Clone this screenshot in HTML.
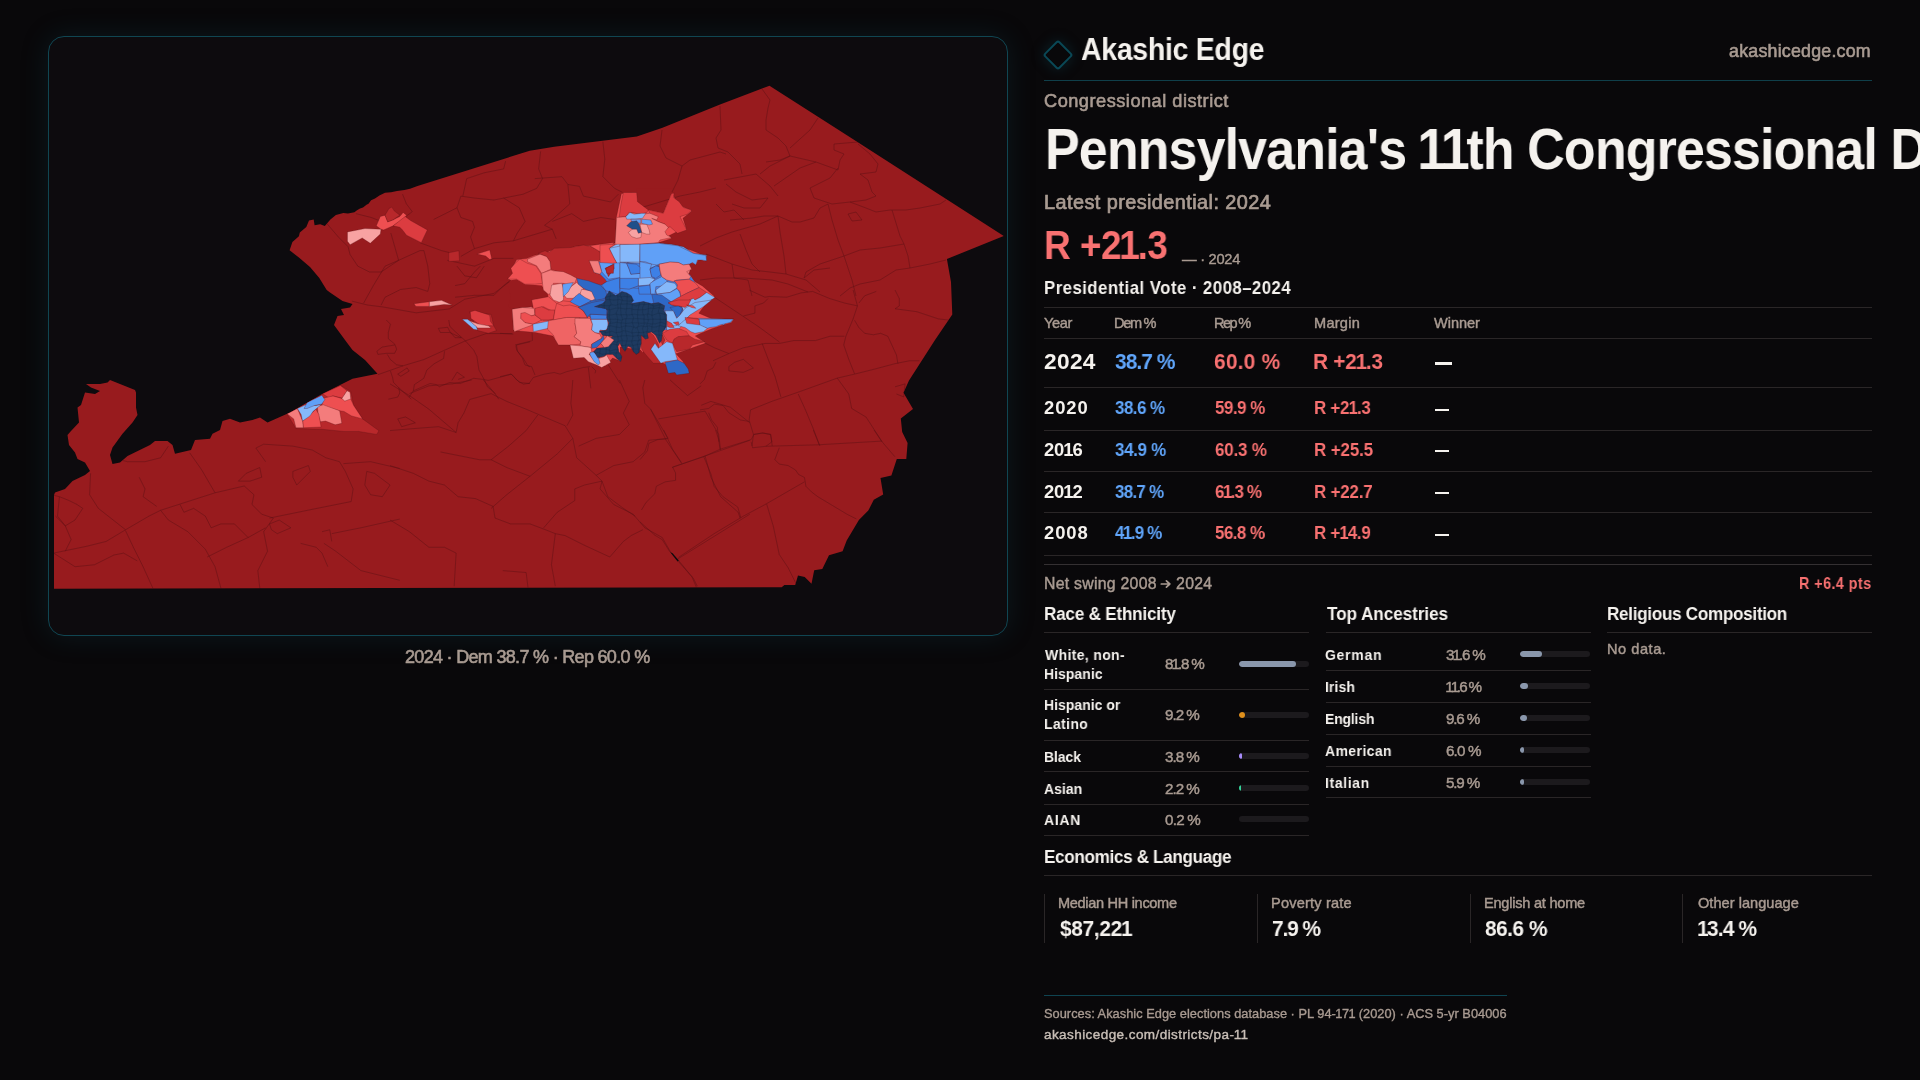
<!DOCTYPE html>
<html><head><meta charset="utf-8"><title>PA-11</title><style>
html,body{margin:0;padding:0;}
body{width:1920px;height:1080px;overflow:hidden;background:#09080a;position:relative;font-family:"Liberation Sans",sans-serif;}
.t{position:absolute;white-space:nowrap;line-height:1;will-change:transform;}
.ln{position:absolute;}
.n1{margin:0 -0.045em;}
.bp{display:inline-block;width:0;height:0;}
#card{position:absolute;left:48px;top:36px;width:960px;height:600px;box-sizing:border-box;border:1px solid #104652;border-radius:16px;background:#0d0b0e;box-shadow:0 0 28px rgba(16,80,96,0.22);}
#logo{position:absolute;left:1046.7px;top:44px;width:22px;height:22px;box-sizing:border-box;border:2.5px solid #0a4856;border-radius:3px;transform:rotate(45deg);box-shadow:0 0 14px rgba(13,80,96,0.35);}
.trk{position:absolute;width:70px;height:6px;border-radius:3px;background:#1c1a1d;overflow:hidden;}
.fill{height:6px;border-radius:3px;}
</style></head><body>
<div id="card"></div>
<svg id="map" width="1920" height="1080" viewBox="0 0 1920 1080" style="position:absolute;left:0;top:0">
<defs><clipPath id="dclip"><polygon points="289.6,250.2 292.4,241.9 298.9,236.3 299.8,232.6 306.3,227 309,220.6 313.7,219.6 314.6,225.2 320.2,224.3 324.8,226.1 330.4,219.6 335.9,215 343.3,213.1 348,213.4 354.4,212.2 357,210.2 360,208.5 363,207.6 366.5,204.8 368.5,203.8 371.1,200.2 375,198.5 379.4,195.6 385,192.8 391,192.2 397,190.9 404.4,190 410,188.8 417.5,186 520,153.75 529.8,150.7 554.2,146.7 636.8,136.4 662.5,127.7 719.4,104.7 769.5,85.7 852,138.5 1003.75,236 946.9,259 951,282 952.3,314.6 935,340 909,380.6 903.5,392.8 913,409 900.8,418.5 902.2,432 907.6,443 906.3,459 896.8,459 891.4,475.4 880.5,478 883.2,494.4 873.8,499.8 868.3,510.6 858.9,520 846.7,540.4 842.6,551.3 829,555.3 822.3,568.9 814.2,570.2 811.5,583.75 804.7,577 798,575.6 795.2,585 784.4,585 781.7,587.3 520,587.8 54,588.8 54,495 55,492.5 65,489 72.5,481 85,475 90,471 85,462.5 77.5,459 75,452.5 69,445 67.5,435 71,431 79,422.5 77.5,407.5 81,405 85,392.5 95,394 100,391 91,387.5 86,384 100,384 107.5,382.5 110,380 135,390 136,392.5 136,407.5 137.5,415 132.5,422.5 122.5,433.75 112.5,447.5 110,455 112.5,464 120,462.5 127.5,456 150,445 155,441 167.5,441 172.5,445 175,453.75 191,450 195,440 210,438.75 212.5,433.75 220,430 222.5,421 230,418.75 240,422.5 252.5,420 260,417.5 267.5,422.5 290,412.5 310,401 322.5,393.75 340,385 352.5,378.75 377.5,373.75 365,360 352.5,350 345,340 334,325 337.5,316 344,315 341,309 350,307.5 352.5,304 342.5,301 330,292.5 326.7,290 319.3,278 310,266.9 298.9,257.6"/></clipPath></defs>
<polygon points="289.6,250.2 292.4,241.9 298.9,236.3 299.8,232.6 306.3,227 309,220.6 313.7,219.6 314.6,225.2 320.2,224.3 324.8,226.1 330.4,219.6 335.9,215 343.3,213.1 348,213.4 354.4,212.2 357,210.2 360,208.5 363,207.6 366.5,204.8 368.5,203.8 371.1,200.2 375,198.5 379.4,195.6 385,192.8 391,192.2 397,190.9 404.4,190 410,188.8 417.5,186 520,153.75 529.8,150.7 554.2,146.7 636.8,136.4 662.5,127.7 719.4,104.7 769.5,85.7 852,138.5 1003.75,236 946.9,259 951,282 952.3,314.6 935,340 909,380.6 903.5,392.8 913,409 900.8,418.5 902.2,432 907.6,443 906.3,459 896.8,459 891.4,475.4 880.5,478 883.2,494.4 873.8,499.8 868.3,510.6 858.9,520 846.7,540.4 842.6,551.3 829,555.3 822.3,568.9 814.2,570.2 811.5,583.75 804.7,577 798,575.6 795.2,585 784.4,585 781.7,587.3 520,587.8 54,588.8 54,495 55,492.5 65,489 72.5,481 85,475 90,471 85,462.5 77.5,459 75,452.5 69,445 67.5,435 71,431 79,422.5 77.5,407.5 81,405 85,392.5 95,394 100,391 91,387.5 86,384 100,384 107.5,382.5 110,380 135,390 136,392.5 136,407.5 137.5,415 132.5,422.5 122.5,433.75 112.5,447.5 110,455 112.5,464 120,462.5 127.5,456 150,445 155,441 167.5,441 172.5,445 175,453.75 191,450 195,440 210,438.75 212.5,433.75 220,430 222.5,421 230,418.75 240,422.5 252.5,420 260,417.5 267.5,422.5 290,412.5 310,401 322.5,393.75 340,385 352.5,378.75 377.5,373.75 365,360 352.5,350 345,340 334,325 337.5,316 344,315 341,309 350,307.5 352.5,304 342.5,301 330,292.5 326.7,290 319.3,278 310,266.9 298.9,257.6" fill="#981b1e"/>
<g clip-path="url(#dclip)">
<g fill="none" stroke="#5e1115" stroke-opacity="0.75" stroke-linejoin="round">
<g transform="translate(40,380) scale(0.19449)" stroke-width="3.34">
<polyline points="70,890 240,855 340,830 440,770 560,700 620,670 760,625 900,580 1050,545"/>
<polyline points="1180,710 1400,665 1600,625"/>
<polyline points="1500,790 1650,760 1850,715"/>
<polyline points="260,480 255,590 300,660 440,770"/>
<polyline points="440,775 480,860 530,960 580,1070"/>
<polyline points="770,375 830,460 900,580"/>
<polyline points="620,670 660,720 760,780 850,870 900,960 930,1070"/>
<polyline points="1050,545 1100,590 1090,640 1140,690 1200,710 1150,780 1170,880 1120,980 1130,1070"/>
<polyline points="1600,625 1610,560 1570,470 1540,420 1470,400 1400,360 1300,340 1150,330 1110,350 1160,420"/>
<polyline points="1850,455 1700,420 1560,430"/>
<polyline points="60,590 100,600 150,620 190,640 220,660 180,720 130,750 80,700"/>
<polyline points="70,890 180,960 280,950 380,900 430,890 500,930"/>
<polyline points="510,500 540,560 530,600 600,650"/>
<polyline points="1020,520 1060,480 1130,450 1140,500 1080,520 1020,520"/>
<polyline points="1300,470 1380,440 1390,470 1320,540 1300,500 1300,470"/>
<polyline points="1680,470 1720,480 1800,540 1760,600 1700,590 1670,540 1680,470"/>
<polyline points="1180,740 1230,720 1290,760 1220,790 1190,770 1180,740"/>
<polyline points="1340,840 1420,860 1450,890 1480,960"/>
<polyline points="1450,780 1490,770 1500,830"/>
<polyline points="720,640 740,680 790,660 850,700 880,760 930,740 1000,740 1070,810"/>
<polyline points="860,910 960,860 1070,810 1160,760"/>
<polyline points="1850,1030 1650,980 1520,880 1460,840"/>
<polyline points="370,400 450,420 540,420 620,400 660,340"/>
<polyline points="100,600 90,700 130,750 160,820 130,880"/>
</g>
<g transform="translate(390,380) scale(0.19449)" stroke-width="3.34">
<polyline points="0,20 100,80 200,150 340,270"/>
<polyline points="100,70 200,30 320,20 420,0"/>
<polyline points="340,270 350,220 380,170 410,100 520,70 600,110 700,150 770,180 900,235 940,300 960,400 1060,490 1090,520 1080,560 1150,640 1250,690 1310,760"/>
<polyline points="540,70 480,0"/>
<polyline points="0,260 120,250 250,240 340,270"/>
<polyline points="260,370 360,390 460,410 520,410 600,450 720,495"/>
<polyline points="520,410 610,340 700,260 760,180"/>
<polyline points="940,300 860,380 720,495 600,590 520,660"/>
<polyline points="0,440 120,480 200,520 280,540 350,600 440,610 530,650 540,710 620,740 720,740 800,770 850,790 900,800 1000,850 1130,910 1200,830 1240,800 1300,770"/>
<polyline points="0,720 100,780 200,860 280,860 340,890 330,1060"/>
<polyline points="850,790 830,950 850,1060"/>
<polyline points="1310,760 1400,810 1440,880 1480,930 1560,1020 1580,1060"/>
<polyline points="1480,920 1850,690"/>
<polyline points="1060,490 1150,440 1250,420 1310,370 1330,310 1430,300"/>
<polyline points="1430,300 1340,150 1310,120 1300,40 1310,0"/>
<polyline points="1340,150 1420,310 1500,430"/>
<polyline points="1450,450 1850,310"/>
<polyline points="1380,200 1620,160 1690,280 1700,360"/>
<polyline points="1620,390 1650,500 1700,600 1790,680 1800,710"/>
<polyline points="1850,220 1750,140 1650,110 1600,130"/>
<polyline points="1440,0 1530,80 1600,30"/>
<polyline points="940,0 930,120 940,180 910,235"/>
<polyline points="1180,0 1230,110 1200,170 1230,230 1180,280 1060,300 970,340"/>
<polyline points="1090,520 1000,540 950,560 950,620 860,680 790,760"/>
<polyline points="1090,520 1120,600 1200,660 1260,700"/>
<polyline points="40,200 80,190 130,220 60,240 40,200"/>
<polyline points="580,980 700,990 710,1070"/>
</g>
<g transform="translate(280,130) scale(0.19449)" stroke-width="3.34">
<polyline points="240,480 300,550 350,600 360,640 400,700 460,730 520,730 610,670 720,620 740,620"/>
<polyline points="370,880 450,900 530,910 700,940 870,920 950,870 1100,840 1180,780"/>
<polyline points="430,890 480,800 540,700 610,670"/>
<polyline points="570,530 590,600 610,670"/>
<polyline points="390,430 470,450 520,470"/>
<polyline points="630,330 650,380 680,420 640,450"/>
<polyline points="720,580 830,620 870,630"/>
<polyline points="930,650 1000,610 1100,580 1200,570 1300,540 1400,510 1420,560"/>
<polyline points="740,620 760,700 770,790 760,830 700,810 620,820 540,860 520,900"/>
<polyline points="790,460 850,430 910,400 930,450 990,470 1000,500 980,550 1000,610"/>
<polyline points="910,400 930,340 1000,350 1100,360 1150,350 1250,330 1320,300 1350,250 1330,200 1340,110"/>
<polyline points="1150,350 1230,400 1260,470 1220,530 1200,570"/>
<polyline points="940,340 960,250 1050,220 1150,200 1160,160"/>
<polyline points="1310,250 1450,240 1480,280 1540,290 1560,340 1700,370 1740,330"/>
<polyline points="1660,60 1670,150 1660,240 1720,300 1760,320"/>
<polyline points="1480,280 1490,380 1400,460 1360,490 1400,510"/>
<polyline points="1400,470 1500,430 1560,470 1650,450 1720,460"/>
<polyline points="860,670 1000,700 1100,660 1200,660"/>
<polyline points="900,800 950,790 1000,730 1030,700"/>
<polyline points="900,860 1000,850 1100,850 1150,800 1200,760"/>
<polyline points="910,700 950,750 1010,760 1050,700"/>
</g>
<g transform="translate(640,80) scale(0.20000)" stroke-width="3.25">
<polyline points="400,130 405,250 380,290 390,340 440,360 500,420 510,470"/>
<polyline points="610,45 650,100 640,140 630,200 630,250 690,290 730,330 750,380 700,400 630,410"/>
<polyline points="110,250 100,330 130,390 210,430 190,500 160,560"/>
<polyline points="210,430 250,400 400,360 430,370"/>
<polyline points="750,340 850,250 890,190"/>
<polyline points="420,500 580,470 650,530 690,580"/>
<polyline points="600,470 650,430 750,380 880,410 990,450 1000,400 1020,370 970,350 970,320 1090,310"/>
<polyline points="1090,320 1150,370 1190,420 1180,460 1100,470 1140,500 1160,560 1180,580 1130,600 1050,610 960,620 870,590 850,540 950,490 990,440"/>
<polyline points="880,410 800,440 670,530"/>
<polyline points="1530,600 1500,620 1400,640 1330,650 1250,650 1180,660 1130,640 1050,610"/>
<polyline points="940,620 960,700 990,800 1020,880 1060,1000 1080,1080"/>
<polyline points="1260,650 1300,780 1320,820 1340,880 1350,940"/>
<polyline points="1320,820 1200,840 1100,850 1020,880 900,920 830,960 820,990 870,950 950,940"/>
<polyline points="1350,940 1450,920 1530,900"/>
<polyline points="690,680 700,760 720,880 730,970"/>
<polyline points="0,640 100,610 200,580 300,560 380,540"/>
<polyline points="450,700 560,690 620,680 690,680 760,710 800,710 870,690 900,640 940,620"/>
<polyline points="330,870 460,920 560,950 650,960 730,970 830,1000 900,1060"/>
<polyline points="300,830 380,790 460,760 600,720 690,680"/>
<polyline points="500,770 530,850 560,920 600,960"/>
<polyline points="460,920 470,990 540,1000 560,1080"/>
<polyline points="300,1000 380,990 520,990 660,1000 740,1020 840,1060"/>
<polyline points="1000,1080 1050,1040 1100,1020 1200,1000 1280,950 1350,940"/>
<polyline points="430,520 480,560 560,600 640,590 600,640 520,640 460,620"/>
<polyline points="380,620 420,660 470,650 520,700"/>
<polyline points="1040,670 1080,660 1110,700 1060,705 1040,670"/>
</g>
<g transform="translate(700,290) scale(0.14445)" stroke-width="4.50">
<polyline points="100,50 250,150 400,250 550,360"/>
<polyline points="340,0 450,50 480,45 600,50 700,20 780,10 900,60 1000,90 1090,110"/>
<polyline points="300,180 380,160 380,110 440,90 470,60"/>
<polyline points="1090,110 1060,200 1010,320 995,380 1030,480 1070,580"/>
<polyline points="1090,110 1060,0"/>
<polyline points="1100,90 1140,40 1220,10"/>
<polyline points="1350,0 1380,60 1380,110 1350,130 1500,150 1650,200 1740,210"/>
<polyline points="1070,210 1100,260 1140,300 1200,310 1250,300 1300,320 1360,450 1370,510"/>
<polyline points="90,490 200,440 300,400 450,370 550,370 650,350 800,350 900,320 1000,320"/>
<polyline points="0,350 100,400 200,440"/>
<polyline points="430,370 480,500 520,600 560,740"/>
<polyline points="350,830 500,770 700,700 950,610 1080,580 1200,550 1350,510 1450,490 1520,490"/>
<polyline points="950,610 1030,720 1050,820 1150,880 1260,1050"/>
<polyline points="680,720 730,830 780,950 830,1080"/>
<polyline points="350,830 340,900 370,1000 360,1080"/>
<polyline points="0,830 60,820 100,790 160,800 200,850 280,900 340,910"/>
<polyline points="60,850 80,900 120,950 130,1050"/>
<polyline points="370,1000 430,990 490,1000 500,1080"/>
<polyline points="0,650 30,620 50,560 90,540 110,500"/>
<polyline points="200,530 240,500 300,480 370,540 300,570 200,560 200,530"/>
<polyline points="1350,670 1420,650 1410,740 1360,720"/>
</g>
<g transform="translate(640,430) scale(0.14815)" stroke-width="4.39">
<polyline points="0,620 100,710 150,740 200,820 260,880 350,990 380,1060"/>
<polyline points="260,860 500,700 700,580 850,500 1110,350"/>
<polyline points="220,250 430,180 540,130 750,65"/>
<polyline points="160,0 220,130 280,220"/>
<polyline points="510,0 530,60 540,130"/>
<polyline points="430,180 480,300 500,380 560,450 660,520 680,590"/>
<polyline points="850,110 1200,100 1630,75"/>
<polyline points="1170,0 1210,100"/>
<polyline points="1580,0 1630,75 1720,180"/>
<polyline points="940,120 910,200 940,230 1000,240 1050,270 1070,300 1110,320 1120,380 1160,420 1200,450 1250,480 1300,510 1350,540 1400,570 1460,600"/>
<polyline points="855,500 900,650 940,840 1000,930 1060,1050"/>
<polyline points="0,200 50,140 60,90 120,65 180,60"/>
<polyline points="220,250 240,290 240,340 170,350 110,380 100,430 40,490 10,540"/>
<polyline points="750,65 770,30 830,20 880,30 890,80 850,110 760,120 750,80"/>
</g>
<g transform="translate(330,320) scale(0.10417)" stroke-width="6.24">
<polyline points="460,525 700,440 900,380 1100,290 1300,200 1500,130 1750,130"/>
<polyline points="540,0 580,40 560,120 560,180 620,230 640,280 620,320 540,320 460,330 450,300 500,260 620,240"/>
<polyline points="550,330 580,380 640,430 700,440"/>
<polyline points="1140,0 1150,60 1200,110 1300,200 1380,290 1410,350 1430,480 1490,590 1510,640 1580,700 1620,760"/>
<polyline points="1040,80 1130,70 1150,110 1200,170 1260,170 1150,120 1060,120 1040,80"/>
<polyline points="1100,300 1090,370 1000,420 930,480 900,560 810,620 800,680 760,740"/>
<polyline points="580,490 600,550 610,600 660,650 670,700 650,740 560,760"/>
<polyline points="660,650 780,760"/>
<polyline points="800,680 960,610 1020,620 1050,640 1150,600 1250,610 1380,560 1470,570 1520,580 1740,520 1780,560 1820,600 1920,610"/>
<polyline points="1920,210 1790,240 1800,300 1850,360 1900,440 1920,450"/>
<polyline points="1170,580 1220,500 1290,550 1230,570"/>
<polyline points="650,520 740,460 760,490 680,540 650,520"/>
</g>
<g transform="translate(500,300) scale(0.08333)" stroke-width="7.80">
<polyline points="0,400 160,410"/>
<polyline points="380,300 390,490"/>
<polyline points="180,540 380,490"/>
<polyline points="190,550 200,600 270,700 300,780 380,800 420,900"/>
<polyline points="0,920 130,890 150,900 200,960 280,1010 350,1000 400,930 530,890 650,870 720,890 800,860 1000,810 1080,800"/>
<polyline points="1060,810 1090,1060"/>
<polyline points="1100,800 1150,850 1140,880"/>
<polyline points="1300,780 1440,1000"/>
</g>
</g>
<polygon points="670.2,552.3 672.6,553.2 678.8,560.6 677.6,561.4" fill="#0d0b0e"/>
<g transform="translate(500,190) scale(0.17596)" stroke="#5a1418" stroke-opacity="0.5" stroke-width="3.41" stroke-linejoin="round">
<polygon points="690,20 770,15 780,80 840,115 980,20 1000,60 1030,90 1090,120 1040,160 1060,225 1000,240 960,260 975,275 900,300 950,310 1080,340 1170,375 1165,405 1130,395 1115,420 1080,415 1050,440 1060,460 1000,490 1090,510 1150,545 1220,605 1175,640 1130,700 1200,730 1330,735 1315,755 1260,770 1200,790 1130,820 1110,830 1170,870 1000,930 1040,975 1075,1040 970,1030 940,990 900,970 860,900 830,870 810,930 770,935 740,920 700,900 690,975 640,955 600,1000 560,1000 540,975 510,930 440,930 400,880 330,870 300,830 200,810 90,800 75,680 190,665 180,625 260,600 240,575 200,560 130,555 90,535 55,510 45,500 110,470 70,440 95,395 150,390 200,370 240,365 300,340 360,350 430,320 510,315 610,310 660,300 660,160" fill="#ee4f51"/>
</g>
<polygon points="598,262 640,258 672,262 690,275 700,290 690,300 672,305 665,318 630,322 600,318 588,305 585,290 590,275" fill="#3d80e6"/>
<g transform="translate(500,240) scale(0.08333)" stroke="#5a1418" stroke-opacity="0.5" stroke-width="7.20" stroke-linejoin="round">
<polygon points="460,160 540,130 590,150 650,100 850,90 1000,60 1100,80 1200,140 1240,210 1180,250 1070,245 1130,390 1200,410 1260,470 1280,500 1220,540 1100,520 920,460 850,430 760,400 660,370 610,350 600,260 560,200 480,170" fill="#b8282b"/>
<polygon points="100,490 200,470 300,530 500,545 580,660 570,700 400,710 380,800 150,830 100,800 130,680 100,560 0,560 0,480" fill="#981b1e" stroke="none"/>
<polygon points="90,470 150,400 130,340 200,260 240,230 330,280 430,310 490,400 510,520 420,530 300,530 200,470" fill="#ee4f51"/>
<polygon points="330,230 480,170 560,200 600,260 610,350 500,400 440,310 330,260" fill="#f47c7c"/>
<polygon points="500,400 610,360 640,370 760,380 850,420 920,460 900,510 860,560 760,520 640,520 620,640 580,650 520,600 510,520" fill="#f47c7c"/>
<polygon points="620,540 740,520 770,600 760,720 720,750 640,720 600,660" fill="#f8a2a2"/>
<polygon points="760,650 850,560 920,510 1000,580 960,650 880,700 800,700" fill="#f8a2a2"/>
<polygon points="980,590 1140,620 1150,700 1100,730 1020,720 960,650" fill="#f8a2a2"/>
<polygon points="750,530 880,510 820,620 760,680" fill="#60a0f7"/>
<polygon points="920,460 1060,490 1200,540 1270,610 1290,700 1150,730 1100,620 1000,580 940,530" fill="#2e68c6"/>
<polygon points="840,740 900,680 950,640 1020,690 1100,730 960,800 880,780" fill="#3d80e6"/>
<polygon points="960,800 1100,730 1290,700 1300,940 1100,940 1000,860" fill="#2e68c6"/>
<polygon points="1220,540 1280,500 1440,450 1440,660 1320,620 1270,610" fill="#3d80e6"/>
<polygon points="1310,100 1380,60 1440,30 1440,240 1400,270 1340,180" fill="#85b8fa"/>
<polygon points="1190,260 1280,240 1360,280 1440,250 1440,450 1300,470 1220,380" fill="#60a0f7"/>
<polygon points="1260,340 1360,290 1370,340 1300,440 1280,380" fill="#b8282b"/>
<polygon points="1070,250 1180,250 1220,380 1200,410 1130,390" fill="#f47c7c"/>
<polygon points="1080,70 1200,50 1370,30 1310,100 1340,180 1400,270 1250,240 1200,140" fill="#ee4f51"/>
<polygon points="380,720 580,680 680,760 760,730 840,740 950,800 1050,940 900,950 700,960 560,960 420,960 400,820" fill="#ee4f51"/>
<polygon points="420,830 520,800 600,840 660,860 650,960 520,960 430,900" fill="#dc3c40"/>
<polygon points="150,830 380,800 420,900 400,1000 300,1030 240,1080 160,1080" fill="#f47c7c"/>
<polygon points="240,880 400,870 420,990 300,1010" fill="#ee4f51"/>
</g>
<g transform="translate(500,300) scale(0.08333)" stroke="#5a1418" stroke-opacity="0.5" stroke-width="7.20" stroke-linejoin="round">
<polygon points="145,110 270,90 410,100 420,180 300,200 260,160 250,220 300,270 400,290 390,300 170,380 160,300" fill="#f47c7c"/>
<polygon points="250,160 300,150 380,190 420,180 500,240 400,290 300,270 250,220" fill="#ee4f51"/>
<polygon points="420,100 500,80 580,120 660,120 640,230 580,240 500,240 420,180" fill="#dc3c40"/>
<polygon points="660,120 680,40 760,70 840,60 950,90 1000,130 1050,210 960,210 800,210 640,240" fill="#ee4f51"/>
<polygon points="395,290 600,250 580,340 400,380" fill="#85b8fa"/>
<polygon points="580,250 800,210 960,210 900,280 920,400 890,440 970,500 960,530 850,540 700,540 660,470 640,420 570,350" fill="#ef6464"/>
<polygon points="900,220 1080,220 1110,290 1100,360 1140,390 1200,410 1220,460 1100,530 1090,570 960,550 970,500 890,440 920,400 900,280" fill="#f47c7c"/>
<polygon points="1090,230 1290,230 1300,330 1260,370 1200,360 1190,400 1140,390 1100,360 1110,290" fill="#85b8fa"/>
<polygon points="1080,170 1280,180 1290,230 1090,230" fill="#3d80e6"/>
<polygon points="940,90 1100,30 1200,10 1280,0 1280,180 1080,170 1050,210 1000,130" fill="#2e68c6"/>
<polygon points="1210,520 1290,430 1370,480 1300,560 1250,570" fill="#f47c7c"/>
<polygon points="1100,530 1220,460 1240,420 1250,470 1200,530 1160,570 1100,580" fill="#2e68c6"/>
<polygon points="840,540 960,550 1090,570 1100,620 1070,650 1130,720 1190,700 1250,680 1280,660 1330,750 1220,810 1160,780 1060,740 1010,690 880,700" fill="#f8a2a2"/>
<polygon points="1080,630 1130,620 1180,690 1200,760 1180,780 1130,740 1080,660" fill="#60a0f7"/>
<polygon points="1120,620 1170,580 1280,580 1300,640 1190,690" fill="#1e3a60"/>
</g>
<g transform="translate(600,185) scale(0.08333)" stroke="#5a1418" stroke-opacity="0.5" stroke-width="7.20" stroke-linejoin="round">
<polygon points="440,40 900,40 860,100 760,340 580,300 450,200" fill="#981b1e" stroke="none"/>
<polygon points="280,90 440,90 450,200 580,300 560,330 500,350 350,330 310,380 230,390 250,240" fill="#dc3c40"/>
<polygon points="580,300 760,340 860,100 890,100 880,150 950,200 1000,270 1100,300 1050,350 960,380 990,440 1040,540 930,580 840,500 800,520 780,470 700,440 620,400 650,380 600,340" fill="#dc3c40"/>
<polygon points="200,390 310,380 350,330 500,350 600,340 700,380 680,420 620,400 700,440 780,470 820,510 780,560 800,600 860,630 720,660 700,690 450,715 180,710" fill="#f47c7c"/>
<polygon points="340,570 400,520 480,520 500,570 490,630 440,640 380,620" fill="#f8a2a2"/>
<polygon points="480,470 560,470 590,540 600,590 560,590 500,570" fill="#f8a2a2"/>
<polygon points="310,380 360,330 410,350 500,340 550,340 510,400 420,410 320,410" fill="#85b8fa"/>
<polygon points="370,410 490,410 490,460 420,450 380,440" fill="#60a0f7"/>
<polygon points="500,410 610,420 630,470 590,480 500,460" fill="#60a0f7"/>
<polygon points="320,490 370,440 440,430 470,470 500,570 460,580 440,530 390,530" fill="#1f4f8a"/>
<polygon points="110,760 300,720 480,715 480,940 300,930 200,935 170,880" fill="#85b8fa"/>
<polygon points="480,715 700,700 860,710 1000,740 1120,820 1280,840 1270,910 1230,900 1180,880 1140,940 1110,920 1080,940 1050,960 960,940 880,930 710,950 700,1080 480,1080" fill="#60a0f7"/>
<polygon points="0,720 180,710 110,760 170,880 200,935 150,940 0,930" fill="#ee4f51"/>
<polygon points="710,950 880,930 1060,950 1090,1000 1060,1080 710,1080" fill="#f47c7c"/>
<polygon points="330,930 430,960 480,1000 480,1080 380,1080 360,1000" fill="#3d80e6"/>
<polygon points="600,1000 700,960 720,1080 610,1080" fill="#2e68c6"/>
<polygon points="70,1000 170,950 160,1060 80,1060" fill="#b8282b"/>
</g>
<g transform="translate(620,240) scale(0.08333)" stroke="#5a1418" stroke-opacity="0.5" stroke-width="7.20" stroke-linejoin="round">
<polygon points="0,560 420,600 560,860 560,1080 0,1080" fill="#3d80e6"/>
<polygon points="0,55 240,50 235,265 0,265" fill="#85b8fa"/>
<polygon points="240,50 470,40 700,70 880,160 1030,185 1040,250 980,240 930,240 910,300 870,270 830,290 760,300 700,270 600,265 470,290 440,300 380,290 300,260 240,260" fill="#60a0f7"/>
<polygon points="240,260 380,290 360,350 380,440 420,470 360,520 240,540 230,450" fill="#60a0f7"/>
<polygon points="360,350 430,310 470,320 490,420 430,460 380,440" fill="#3d80e6"/>
<polygon points="0,270 80,280 110,350 130,410 240,400 240,540 120,580 0,560" fill="#60a0f7"/>
<polygon points="80,280 200,290 240,330 240,400 130,410 110,350" fill="#3d80e6"/>
<polygon points="220,460 360,450 420,470 350,540 220,550" fill="#85b8fa"/>
<polygon points="0,460 220,460 220,550 110,590 0,580" fill="#3d80e6"/>
<polygon points="220,560 360,540 370,650 230,650" fill="#3d80e6"/>
<polygon points="360,520 440,470 500,440 570,490 530,550 430,560 420,650 370,650" fill="#60a0f7"/>
<polygon points="430,600 560,500 660,520 690,570 600,630 440,650" fill="#85b8fa"/>
<polygon points="440,650 600,630 690,580 720,640 730,690 600,760 520,720" fill="#60a0f7"/>
<polygon points="380,650 500,660 640,760 740,790 760,850 700,930 650,900 580,870 520,840 420,800 400,740" fill="#2e68c6"/>
<polygon points="470,290 600,265 700,270 760,300 830,290 860,350 800,380 850,440 830,470 680,480 640,500 560,480 500,440 480,360" fill="#f47c7c"/>
<polygon points="650,490 830,470 900,510 950,570 800,640 730,680 720,620 680,580 690,540" fill="#ee4f51"/>
<polygon points="580,760 700,690 800,640 950,570 1040,630 960,690 900,720 880,700 800,740 780,790 680,800" fill="#dc3c40"/>
<polygon points="740,790 800,740 880,700 900,720 960,690 1040,630 1140,690 1000,780 850,880 800,930 770,1000 700,960 760,850" fill="#85b8fa"/>
<polygon points="540,860 600,870 650,900 700,960 760,1000 700,1080 560,1080 560,960" fill="#85b8fa"/>
<polygon points="780,930 930,940 960,1020 800,1000" fill="#dc3c40"/>
<polygon points="940,940 1360,950 1330,990 1280,990 1240,1020 1190,990 1140,1030 1050,1040 970,1040" fill="#60a0f7"/>
<polygon points="800,780 880,790 900,820 860,830" fill="#ee4f51"/>
</g>
<g transform="translate(620,300) scale(0.08333)" stroke="#5a1418" stroke-opacity="0.5" stroke-width="7.20" stroke-linejoin="round">
<polygon points="0,560 250,600 300,660 400,770 480,780 700,1080 0,1080" fill="#981b1e" stroke="none"/>
<polygon points="600,90 700,70 750,100 720,180 680,220 650,150" fill="#2e68c6"/>
<polygon points="540,130 640,130 680,220 720,180 780,100 900,30 1100,0 1000,80 840,180 800,220 760,270 700,300 660,310 570,300 560,240" fill="#85b8fa"/>
<polygon points="580,30 700,0 850,0 820,60 780,90 700,70 620,60" fill="#dc3c40"/>
<polygon points="800,60 880,70 910,100 860,90" fill="#ee4f51"/>
<polygon points="740,270 800,220 960,290 1050,340 1000,380 900,400 850,380 780,330 700,310" fill="#85b8fa"/>
<polygon points="780,210 950,230 960,300 800,280" fill="#dc3c40"/>
<polygon points="950,230 1360,230 1320,270 1280,280 1200,300 1150,320 1080,330 1050,340 960,300" fill="#60a0f7"/>
<polygon points="560,250 620,280 650,330 600,330 570,320" fill="#dc3c40"/>
<polygon points="640,270 700,260 710,290 680,300" fill="#dc3c40"/>
<polygon points="510,400 600,350 700,340 800,380 830,430 700,440 650,470 630,520 560,480" fill="#dc3c40"/>
<polygon points="630,520 650,470 700,440 830,430 900,470 1020,500 870,540 830,590 680,620" fill="#b8282b"/>
<polygon points="240,420 300,390 360,390 400,420 430,470 460,530 470,580 420,520 400,560 370,590 440,650 480,720 490,760 400,760 330,680 280,620 260,590" fill="#b8282b"/>
<polygon points="470,430 510,420 540,480 510,540" fill="#b8282b"/>
<polygon points="370,590 420,520 460,580 560,500 630,520 660,620 690,720 540,740 490,760" fill="#85b8fa"/>
<polygon points="540,750 690,720 770,760 820,830 830,880 680,900 660,870 580,880" fill="#2e68c6"/>
</g>
<clipPath id="rclip"><polygon transform="translate(500,240) scale(0.08333)" points="100,490 200,470 300,530 500,545 580,660 570,700 400,710 380,800 150,830 100,800 130,680 100,560 0,560 0,480"/><polygon transform="translate(600,185) scale(0.08333)" points="440,40 900,40 860,100 760,340 580,300 450,200"/><polygon transform="translate(620,300) scale(0.08333)" points="0,560 250,600 300,660 400,770 480,780 700,1080 0,1080"/></clipPath>
<g clip-path="url(#rclip)"><g fill="none" stroke="#5e1115" stroke-opacity="0.75" stroke-linejoin="round">
<g transform="translate(40,380) scale(0.19449)" stroke-width="3.34">
<polyline points="70,890 240,855 340,830 440,770 560,700 620,670 760,625 900,580 1050,545"/>
<polyline points="1180,710 1400,665 1600,625"/>
<polyline points="1500,790 1650,760 1850,715"/>
<polyline points="260,480 255,590 300,660 440,770"/>
<polyline points="440,775 480,860 530,960 580,1070"/>
<polyline points="770,375 830,460 900,580"/>
<polyline points="620,670 660,720 760,780 850,870 900,960 930,1070"/>
<polyline points="1050,545 1100,590 1090,640 1140,690 1200,710 1150,780 1170,880 1120,980 1130,1070"/>
<polyline points="1600,625 1610,560 1570,470 1540,420 1470,400 1400,360 1300,340 1150,330 1110,350 1160,420"/>
<polyline points="1850,455 1700,420 1560,430"/>
<polyline points="60,590 100,600 150,620 190,640 220,660 180,720 130,750 80,700"/>
<polyline points="70,890 180,960 280,950 380,900 430,890 500,930"/>
<polyline points="510,500 540,560 530,600 600,650"/>
<polyline points="1020,520 1060,480 1130,450 1140,500 1080,520 1020,520"/>
<polyline points="1300,470 1380,440 1390,470 1320,540 1300,500 1300,470"/>
<polyline points="1680,470 1720,480 1800,540 1760,600 1700,590 1670,540 1680,470"/>
<polyline points="1180,740 1230,720 1290,760 1220,790 1190,770 1180,740"/>
<polyline points="1340,840 1420,860 1450,890 1480,960"/>
<polyline points="1450,780 1490,770 1500,830"/>
<polyline points="720,640 740,680 790,660 850,700 880,760 930,740 1000,740 1070,810"/>
<polyline points="860,910 960,860 1070,810 1160,760"/>
<polyline points="1850,1030 1650,980 1520,880 1460,840"/>
<polyline points="370,400 450,420 540,420 620,400 660,340"/>
<polyline points="100,600 90,700 130,750 160,820 130,880"/>
</g>
<g transform="translate(390,380) scale(0.19449)" stroke-width="3.34">
<polyline points="0,20 100,80 200,150 340,270"/>
<polyline points="100,70 200,30 320,20 420,0"/>
<polyline points="340,270 350,220 380,170 410,100 520,70 600,110 700,150 770,180 900,235 940,300 960,400 1060,490 1090,520 1080,560 1150,640 1250,690 1310,760"/>
<polyline points="540,70 480,0"/>
<polyline points="0,260 120,250 250,240 340,270"/>
<polyline points="260,370 360,390 460,410 520,410 600,450 720,495"/>
<polyline points="520,410 610,340 700,260 760,180"/>
<polyline points="940,300 860,380 720,495 600,590 520,660"/>
<polyline points="0,440 120,480 200,520 280,540 350,600 440,610 530,650 540,710 620,740 720,740 800,770 850,790 900,800 1000,850 1130,910 1200,830 1240,800 1300,770"/>
<polyline points="0,720 100,780 200,860 280,860 340,890 330,1060"/>
<polyline points="850,790 830,950 850,1060"/>
<polyline points="1310,760 1400,810 1440,880 1480,930 1560,1020 1580,1060"/>
<polyline points="1480,920 1850,690"/>
<polyline points="1060,490 1150,440 1250,420 1310,370 1330,310 1430,300"/>
<polyline points="1430,300 1340,150 1310,120 1300,40 1310,0"/>
<polyline points="1340,150 1420,310 1500,430"/>
<polyline points="1450,450 1850,310"/>
<polyline points="1380,200 1620,160 1690,280 1700,360"/>
<polyline points="1620,390 1650,500 1700,600 1790,680 1800,710"/>
<polyline points="1850,220 1750,140 1650,110 1600,130"/>
<polyline points="1440,0 1530,80 1600,30"/>
<polyline points="940,0 930,120 940,180 910,235"/>
<polyline points="1180,0 1230,110 1200,170 1230,230 1180,280 1060,300 970,340"/>
<polyline points="1090,520 1000,540 950,560 950,620 860,680 790,760"/>
<polyline points="1090,520 1120,600 1200,660 1260,700"/>
<polyline points="40,200 80,190 130,220 60,240 40,200"/>
<polyline points="580,980 700,990 710,1070"/>
</g>
<g transform="translate(280,130) scale(0.19449)" stroke-width="3.34">
<polyline points="240,480 300,550 350,600 360,640 400,700 460,730 520,730 610,670 720,620 740,620"/>
<polyline points="370,880 450,900 530,910 700,940 870,920 950,870 1100,840 1180,780"/>
<polyline points="430,890 480,800 540,700 610,670"/>
<polyline points="570,530 590,600 610,670"/>
<polyline points="390,430 470,450 520,470"/>
<polyline points="630,330 650,380 680,420 640,450"/>
<polyline points="720,580 830,620 870,630"/>
<polyline points="930,650 1000,610 1100,580 1200,570 1300,540 1400,510 1420,560"/>
<polyline points="740,620 760,700 770,790 760,830 700,810 620,820 540,860 520,900"/>
<polyline points="790,460 850,430 910,400 930,450 990,470 1000,500 980,550 1000,610"/>
<polyline points="910,400 930,340 1000,350 1100,360 1150,350 1250,330 1320,300 1350,250 1330,200 1340,110"/>
<polyline points="1150,350 1230,400 1260,470 1220,530 1200,570"/>
<polyline points="940,340 960,250 1050,220 1150,200 1160,160"/>
<polyline points="1310,250 1450,240 1480,280 1540,290 1560,340 1700,370 1740,330"/>
<polyline points="1660,60 1670,150 1660,240 1720,300 1760,320"/>
<polyline points="1480,280 1490,380 1400,460 1360,490 1400,510"/>
<polyline points="1400,470 1500,430 1560,470 1650,450 1720,460"/>
<polyline points="860,670 1000,700 1100,660 1200,660"/>
<polyline points="900,800 950,790 1000,730 1030,700"/>
<polyline points="900,860 1000,850 1100,850 1150,800 1200,760"/>
<polyline points="910,700 950,750 1010,760 1050,700"/>
</g>
<g transform="translate(640,80) scale(0.20000)" stroke-width="3.25">
<polyline points="400,130 405,250 380,290 390,340 440,360 500,420 510,470"/>
<polyline points="610,45 650,100 640,140 630,200 630,250 690,290 730,330 750,380 700,400 630,410"/>
<polyline points="110,250 100,330 130,390 210,430 190,500 160,560"/>
<polyline points="210,430 250,400 400,360 430,370"/>
<polyline points="750,340 850,250 890,190"/>
<polyline points="420,500 580,470 650,530 690,580"/>
<polyline points="600,470 650,430 750,380 880,410 990,450 1000,400 1020,370 970,350 970,320 1090,310"/>
<polyline points="1090,320 1150,370 1190,420 1180,460 1100,470 1140,500 1160,560 1180,580 1130,600 1050,610 960,620 870,590 850,540 950,490 990,440"/>
<polyline points="880,410 800,440 670,530"/>
<polyline points="1530,600 1500,620 1400,640 1330,650 1250,650 1180,660 1130,640 1050,610"/>
<polyline points="940,620 960,700 990,800 1020,880 1060,1000 1080,1080"/>
<polyline points="1260,650 1300,780 1320,820 1340,880 1350,940"/>
<polyline points="1320,820 1200,840 1100,850 1020,880 900,920 830,960 820,990 870,950 950,940"/>
<polyline points="1350,940 1450,920 1530,900"/>
<polyline points="690,680 700,760 720,880 730,970"/>
<polyline points="0,640 100,610 200,580 300,560 380,540"/>
<polyline points="450,700 560,690 620,680 690,680 760,710 800,710 870,690 900,640 940,620"/>
<polyline points="330,870 460,920 560,950 650,960 730,970 830,1000 900,1060"/>
<polyline points="300,830 380,790 460,760 600,720 690,680"/>
<polyline points="500,770 530,850 560,920 600,960"/>
<polyline points="460,920 470,990 540,1000 560,1080"/>
<polyline points="300,1000 380,990 520,990 660,1000 740,1020 840,1060"/>
<polyline points="1000,1080 1050,1040 1100,1020 1200,1000 1280,950 1350,940"/>
<polyline points="430,520 480,560 560,600 640,590 600,640 520,640 460,620"/>
<polyline points="380,620 420,660 470,650 520,700"/>
<polyline points="1040,670 1080,660 1110,700 1060,705 1040,670"/>
</g>
<g transform="translate(700,290) scale(0.14445)" stroke-width="4.50">
<polyline points="100,50 250,150 400,250 550,360"/>
<polyline points="340,0 450,50 480,45 600,50 700,20 780,10 900,60 1000,90 1090,110"/>
<polyline points="300,180 380,160 380,110 440,90 470,60"/>
<polyline points="1090,110 1060,200 1010,320 995,380 1030,480 1070,580"/>
<polyline points="1090,110 1060,0"/>
<polyline points="1100,90 1140,40 1220,10"/>
<polyline points="1350,0 1380,60 1380,110 1350,130 1500,150 1650,200 1740,210"/>
<polyline points="1070,210 1100,260 1140,300 1200,310 1250,300 1300,320 1360,450 1370,510"/>
<polyline points="90,490 200,440 300,400 450,370 550,370 650,350 800,350 900,320 1000,320"/>
<polyline points="0,350 100,400 200,440"/>
<polyline points="430,370 480,500 520,600 560,740"/>
<polyline points="350,830 500,770 700,700 950,610 1080,580 1200,550 1350,510 1450,490 1520,490"/>
<polyline points="950,610 1030,720 1050,820 1150,880 1260,1050"/>
<polyline points="680,720 730,830 780,950 830,1080"/>
<polyline points="350,830 340,900 370,1000 360,1080"/>
<polyline points="0,830 60,820 100,790 160,800 200,850 280,900 340,910"/>
<polyline points="60,850 80,900 120,950 130,1050"/>
<polyline points="370,1000 430,990 490,1000 500,1080"/>
<polyline points="0,650 30,620 50,560 90,540 110,500"/>
<polyline points="200,530 240,500 300,480 370,540 300,570 200,560 200,530"/>
<polyline points="1350,670 1420,650 1410,740 1360,720"/>
</g>
<g transform="translate(640,430) scale(0.14815)" stroke-width="4.39">
<polyline points="0,620 100,710 150,740 200,820 260,880 350,990 380,1060"/>
<polyline points="260,860 500,700 700,580 850,500 1110,350"/>
<polyline points="220,250 430,180 540,130 750,65"/>
<polyline points="160,0 220,130 280,220"/>
<polyline points="510,0 530,60 540,130"/>
<polyline points="430,180 480,300 500,380 560,450 660,520 680,590"/>
<polyline points="850,110 1200,100 1630,75"/>
<polyline points="1170,0 1210,100"/>
<polyline points="1580,0 1630,75 1720,180"/>
<polyline points="940,120 910,200 940,230 1000,240 1050,270 1070,300 1110,320 1120,380 1160,420 1200,450 1250,480 1300,510 1350,540 1400,570 1460,600"/>
<polyline points="855,500 900,650 940,840 1000,930 1060,1050"/>
<polyline points="0,200 50,140 60,90 120,65 180,60"/>
<polyline points="220,250 240,290 240,340 170,350 110,380 100,430 40,490 10,540"/>
<polyline points="750,65 770,30 830,20 880,30 890,80 850,110 760,120 750,80"/>
</g>
<g transform="translate(330,320) scale(0.10417)" stroke-width="6.24">
<polyline points="460,525 700,440 900,380 1100,290 1300,200 1500,130 1750,130"/>
<polyline points="540,0 580,40 560,120 560,180 620,230 640,280 620,320 540,320 460,330 450,300 500,260 620,240"/>
<polyline points="550,330 580,380 640,430 700,440"/>
<polyline points="1140,0 1150,60 1200,110 1300,200 1380,290 1410,350 1430,480 1490,590 1510,640 1580,700 1620,760"/>
<polyline points="1040,80 1130,70 1150,110 1200,170 1260,170 1150,120 1060,120 1040,80"/>
<polyline points="1100,300 1090,370 1000,420 930,480 900,560 810,620 800,680 760,740"/>
<polyline points="580,490 600,550 610,600 660,650 670,700 650,740 560,760"/>
<polyline points="660,650 780,760"/>
<polyline points="800,680 960,610 1020,620 1050,640 1150,600 1250,610 1380,560 1470,570 1520,580 1740,520 1780,560 1820,600 1920,610"/>
<polyline points="1920,210 1790,240 1800,300 1850,360 1900,440 1920,450"/>
<polyline points="1170,580 1220,500 1290,550 1230,570"/>
<polyline points="650,520 740,460 760,490 680,540 650,520"/>
</g>
<g transform="translate(500,300) scale(0.08333)" stroke-width="7.80">
<polyline points="0,400 160,410"/>
<polyline points="380,300 390,490"/>
<polyline points="180,540 380,490"/>
<polyline points="190,550 200,600 270,700 300,780 380,800 420,900"/>
<polyline points="0,920 130,890 150,900 200,960 280,1010 350,1000 400,930 530,890 650,870 720,890 800,860 1000,810 1080,800"/>
<polyline points="1060,810 1090,1060"/>
<polyline points="1100,800 1150,850 1140,880"/>
<polyline points="1300,780 1440,1000"/>
</g>
</g></g>
<g transform="translate(570,270) scale(0.10183)" stroke="#5a1418" stroke-opacity="0.5" stroke-width="5.89" stroke-linejoin="round">
<polygon points="345,270 385,205 450,250 510,210 560,225 600,250 625,300 600,330 720,310 800,330 870,320 930,350 920,400 950,440 945,560 910,610 900,690 880,720 840,640 800,610 760,620 770,670 740,680 700,640 700,720 680,810 650,830 620,800 600,760 570,750 540,800 510,760 490,720 470,750 480,800 510,850 500,900 470,880 420,830 360,830 330,850 270,860 240,800 260,770 330,760 360,700 420,650 370,650 320,640 290,600 360,590 380,520 360,470 370,400 350,380 240,360 320,330 350,300" fill="#1e3a60"/>
</g>
<clipPath id="nclip"><polygon points="605.132,297.495 609.206,290.876 615.825,295.458 621.935,291.385 627.026,292.912 631.1,295.458 633.646,300.55 631.1,303.605 643.32,301.568 651.466,303.605 658.595,302.587 664.705,305.642 663.686,310.733 666.741,314.807 666.232,327.026 662.668,332.118 661.65,340.265 659.613,343.32 655.54,335.173 651.466,332.118 647.393,333.136 648.411,338.228 645.356,339.246 641.283,335.173 641.283,343.32 639.246,352.485 636.191,354.521 633.136,351.466 631.1,347.393 628.045,346.375 624.99,351.466 621.935,347.393 619.898,343.32 617.862,346.375 618.88,351.466 621.935,356.558 620.916,361.65 617.862,359.613 612.77,354.521 606.66,354.521 603.605,356.558 597.495,357.576 594.44,351.466 596.477,348.411 603.605,347.393 606.66,341.283 612.77,336.191 607.678,336.191 602.587,335.173 599.532,331.1 606.66,330.081 608.697,322.953 606.66,317.862 607.678,310.733 605.642,308.697 594.44,306.66 602.587,303.605 605.642,300.55"/></clipPath>
<g clip-path="url(#nclip)" fill="none" stroke="#132743" stroke-width="0.55" stroke-opacity="0.5"><polyline points="592,291.577 595.453,292.362 598.67,292.086 602.767,290.939 607.289,290.89 611.59,290.968 614.862,291.819 620.343,291.097 624.013,292.306 629.856,292.185 634.046,293.143 637.185,292.86 641.054,291.146 644.408,291.54 649.856,291.234 654.601,292.333 658.718,292.115 661.906,290.943 665.524,292.433 669.807,291.554"/><polyline points="592,295.926 597.383,296.884 601.115,296.585 605.691,297.307 610.879,295.897 616.82,295.49 621.074,297.024 624.53,296.38 627.648,296.81 632.942,296.582 638.568,295.959 643.654,296.633 648.394,296.301 653.913,297.474 658.336,296.8 661.518,296.89 666.459,297.59"/><polyline points="592,300.201 597.006,299.33 601.391,299.679 604.742,299.417 610.047,299.586 613.79,300.214 619.404,299.469 623.752,300.594 629.402,301.242 634.994,299.944 639.24,300.137 644.892,301.574 648.345,299.698 652.041,299.836 656.496,300.689 660.284,299.285 664.541,300.162 669.24,301.563"/><polyline points="592,305.289 597.029,303.936 602.727,305.678 608.351,305.721 612.528,304.764 615.838,305.329 619.025,303.968 622.652,304.196 626.672,303.933 629.672,304.17 632.977,304.679 636.053,305.905 640.895,304.163 644.652,304.64 648.745,304.101 654.292,306.19 658.69,304.968 661.947,304.052 665.975,304.442"/><polyline points="592,307.685 597.853,308.897 601.293,308.933 604.374,308.897 610.309,309.701 615.398,308.256 619.498,308.03 624.814,308.908 630.151,308.421 633.82,309.577 639.775,309.676 645.193,309.593 650.413,308.174 654.966,308.483 658.053,307.696 661.891,308.251 666.968,309.925"/><polyline points="592,315.375 597.865,313.879 601.526,313.548 605.117,313.494 609.989,315.164 615.51,314.154 620.469,314.923 623.723,314.589 629.453,314.881 634.703,314.151 638.239,314.897 642.236,314.925 648.151,313.953 652.355,315.276 657.53,313.411 660.911,313.366 666.625,314.939"/><polyline points="592,320.509 596.972,318.997 601.618,318.471 604.661,320.487 609.61,319.42 615.41,319.198 621.026,320.139 624.659,318.761 628.538,318.734 633.297,318.779 637.554,318.471 643.284,319.006 647.659,319.557 653.371,319.166 659.125,319.36 663.72,319.413 666.776,319.213"/><polyline points="592,323.582 595.517,322.801 600.693,323 604.671,322.908 609.337,323.547 612.655,323.009 616.401,322.329 621.717,322.883 626.403,323.488 632.14,322.728 636.978,322.878 641.514,323.327 645.871,322.944 650.305,323.924 655.403,323.768 661.23,322.287 665.908,323.928"/><polyline points="592,325.731 596.326,325.613 600.048,325.614 605.057,327.32 610.748,325.809 615.896,327.023 619.325,327.557 625.228,325.966 631.085,326.394 635.547,327.814 641.044,325.826 645.339,326.676 649.356,325.908 653.312,327.172 656.37,326.768 660.692,325.482 664.686,326.936 669.223,325.593"/><polyline points="592,332.847 595.314,331.153 598.433,332.385 602.244,330.826 606.511,332.703 611.968,331.136 615.416,332.721 620.128,332.196 623.396,330.653 628.461,331.536 631.678,332.767 636.582,332.439 639.833,332.57 643.033,332.586 647.394,331.329 652.053,332.739 655.857,330.825 660.438,331.088 663.766,330.903 666.917,331"/><polyline points="592,336.448 595.87,335.826 599.404,335.458 602.458,335.226 605.504,336.385 610.157,335.08 614.582,336.868 617.9,336.591 622.197,335.813 627.701,335.569 632.221,336.276 638.168,335.448 643.665,336.321 648.573,335.597 652.616,334.756 656.005,334.795 661.228,335.239 664.717,334.828"/><polyline points="592,341.476 595.846,340.448 599.725,340.969 603.198,340.936 606.987,342.175 612.905,341.179 616.639,342.184 620.567,340.722 623.57,340.782 627.994,341.073 631.597,341.078 634.612,340.5 637.881,340.825 641.006,339.92 644.919,340.425 649.676,341.136 654.927,341.445 660.075,341.976 664.244,340.649"/><polyline points="592,345.403 596.93,343.77 602.436,345.806 607.318,345.427 612.754,344 617.325,344.876 622.83,345.597 628.309,345.067 633.988,345.304 639.068,344.217 642.161,343.985 646.244,343.917 651.751,345.006 656.634,345.168 661.676,344.84 664.686,345.58 669.931,344.872"/><polyline points="592,348.642 597.21,349.089 600.434,349.121 605.622,348.976 610.841,350.826 615.323,349.402 619.76,350.125 625.061,349.965 629.989,348.67 633.432,349.093 638.661,349.215 643.364,348.514 646.546,349.129 651.562,350.145 656.59,349.182 661.139,349.599 665.538,348.768"/><polyline points="592,354.73 597.809,352.424 602.186,354.35 608.09,353.461 611.896,352.886 617.733,352.888 622.477,352.723 627.049,354.669 630.447,354.351 634.973,354.511 640.083,352.938 645.777,353.549 648.851,352.391 653.326,353.464 657.232,352.72 661.264,353.141 666.785,352.387"/><polyline points="592,357.849 597.779,359.272 603.484,358.256 607.601,358.504 613.597,358.975 617.679,358.588 621.505,357.677 624.81,359.564 628.667,359.806 632.415,358.198 636.947,358.016 641.067,359.855 646.72,359.509 651.613,359.753 657.435,358.879 662.594,357.679 667.791,358.643"/><polyline points="593.487,290 595.024,293.147 593.933,296.529 593.515,300.56 595.143,305.777 594.374,309.557 594.138,313.46 593.202,317.643 593.299,321.128 593.993,326.846 594.975,330.506 593.88,336.495 593.262,339.914 593.621,343.186 593.374,346.46 594.167,350.235 594.599,355.896 593.793,360.135"/><polyline points="598.742,290 598.597,293.186 598.233,299.089 599.442,303.599 598.449,309.188 598.527,313.001 599.001,317.2 599.967,323.062 597.983,328.681 599.633,331.778 599.066,337.465 597.931,342.226 600.155,346.401 599.984,351.878 598.527,357.794 598.301,361.121"/><polyline points="606.236,290 605.53,295.165 605.074,300.46 604.072,305.114 604.535,310.461 605.526,316.221 604.284,320.132 605.504,323.887 604.246,328.983 605.235,332.194 604.908,336.943 605.419,340.614 604.7,343.645 606.278,348.027 606.098,352.961 604.54,357.387 606.282,361.128"/><polyline points="608.951,290 610.518,294.495 609.516,298.755 611.119,303.757 608.981,307.437 609.908,311.452 609.374,316.499 610.673,321.89 609.392,326.405 609.647,332.315 609.453,337.775 610.724,341.439 611.184,345.324 609.349,349.811 609.9,353.481 611.176,358.477 609.843,361.916"/><polyline points="616.162,290 615.966,293.156 617.977,297.335 617.58,302.986 618.057,308.979 616.267,312.967 617.613,318.774 617.416,321.87 616.719,326.006 616.228,330.001 616.493,333.009 618.115,337.064 618.136,340.435 616.677,344.057 617.794,349.522 615.94,353.819 616.716,358.24"/><polyline points="621.275,290 620.473,295.691 622.349,299.923 620.498,305.223 620.551,308.328 621.017,314.088 622.557,319.33 621.054,323.347 621.881,329.22 622.12,333.007 621.062,336.956 622.214,339.968 621.922,345.717 620.459,351.547 621.541,355.248 622.69,361.119"/><polyline points="626.185,290 627.381,294.48 627.08,298.029 627.128,303.245 626.611,308.563 625.921,312.547 627.031,316.632 625.627,319.869 625.747,325.128 625.235,328.322 625.935,332.98 627.274,338.921 625.789,344.884 625.385,348.136 626.857,352.632 625.716,356.973 626.642,361.223"/><polyline points="633.43,290 631.688,294.993 632.103,300.516 632.293,305.217 631.876,310.431 631.986,314.173 633.52,317.633 632.181,322.368 633.779,326.556 631.953,331.078 632.966,336.503 631.643,342.476 633.363,346.901 633.592,352.422 632.102,355.543 631.853,358.901"/><polyline points="639.38,290 639.226,294.117 637.771,298.464 639.417,303.797 638.578,307.115 637.669,311.975 637.486,316.081 637.759,319.693 638.711,324.491 637.174,328.101 638.775,332.083 637.896,335.638 639.056,339.249 637.299,343.893 638.096,347.197 638.681,351.847 637.54,355.121 638.131,360.207"/><polyline points="644.358,290 643.43,293.937 643.069,298.009 644.462,303.601 642.543,307.693 642.559,312.877 644.234,315.894 644.039,320.166 644.189,324.384 642.46,328.767 643.394,331.812 644.253,336.734 643.563,340.001 643.281,344.113 642.75,347.551 644.291,352.114 643.247,355.441 644.39,360.855"/><polyline points="648.713,290 647.608,295.927 648.673,299.087 648.62,303.25 648.429,308.111 648.336,311.592 647.421,315.259 648.44,320.798 646.973,324.346 647.693,328.546 646.745,332.696 648.19,336.438 646.548,342.13 648.268,346.817 648.462,349.931 647.889,353.284 647.955,357.934 647.458,361.853"/><polyline points="653.308,290 652.779,294.34 653.212,297.41 652.292,301.879 653.599,307.17 652.158,311.545 651.984,315.964 652.761,319.35 652.788,322.625 651.825,327.155 651.924,332.065 653.593,337.265 651.857,341.799 652.634,346.311 652.054,352.164 654.118,357.735"/><polyline points="658.637,290 659.353,295.945 660.371,301.815 660.064,305.31 658.329,311.102 659.987,315.155 660.324,318.631 660.13,322.456 659.377,325.887 658.672,331.647 659.386,335.435 658.26,339.392 658.559,342.939 659.803,348.748 658.577,354.434 658.448,359.789"/><polyline points="664.944,290 665.413,295.619 666.199,300.359 666.464,303.673 665.027,308.562 664.716,313.955 665.467,319.927 665.916,324.007 664.505,328.334 664.197,333.565 664.69,339.025 666.443,343.942 665.674,348.7 664.085,352.638 664.439,355.739 665.118,360.587"/></g>
<g transform="translate(500,300) scale(0.08333)" stroke="#5a1418" stroke-opacity="0.5" stroke-width="7.20" stroke-linejoin="round">
<polygon points="1210,520 1290,430 1370,480 1300,560 1250,570" fill="#f47c7c"/>
</g>
<g transform="translate(330,195) scale(0.13423)" stroke="#5a1418" stroke-opacity="0.5" stroke-width="4.47" stroke-linejoin="round">
<polygon points="130,275 260,250 380,255 375,290 300,360 240,320 150,370 130,345" fill="#f8a2a2"/>
<polygon points="345,230 375,160 410,150 430,200 470,185 520,160 545,130 570,150 540,190 500,210 470,230 400,260 380,255" fill="#ee4f51"/>
<polygon points="410,150 440,100 460,90 480,120 520,150 470,185 430,200" fill="#b8282b"/>
<polygon points="470,230 560,160 600,190 725,260 680,355 570,300 540,260 520,240" fill="#dc3c40"/>
<polygon points="885,430 960,415 965,490 885,495" fill="#b8282b"/>
<polygon points="1095,440 1190,410 1205,475 1190,480 1160,455" fill="#ee4f51"/>
<polygon points="625,810 740,795 740,830 640,830" fill="#ee4f51"/>
<polygon points="740,795 830,785 910,820 850,815 740,830" fill="#f8a2a2"/>
<polygon points="1040,870 1200,890 1220,975 1240,1010 1180,1030 1100,1010" fill="#b8282b"/>
<polygon points="1045,870 1080,860 1190,895 1195,940 1220,975 1120,970 1050,920" fill="#dc3c40"/>
<polygon points="1020,930 1100,960 1180,975 1200,990 1100,990 1060,960" fill="#f8a2a2"/>
<polygon points="985,925 1025,925 1090,980 1100,1005 1070,1000" fill="#85b8fa"/>
</g>
<g transform="translate(270,370) scale(0.07407)" stroke="#5a1418" stroke-opacity="0.5" stroke-width="8.10" stroke-linejoin="round">
<polygon points="230,590 720,320 950,210 1090,290 1130,480 1250,660 1470,820 1440,870 1200,830 1000,830 700,800 350,790" fill="#b8282b"/>
<polygon points="710,320 950,210 1040,280 980,380 850,350 800,380" fill="#dc3c40"/>
<polygon points="720,380 850,350 990,390 1090,390 1130,480 1250,660 1100,620 1000,560 940,550 900,540 700,480" fill="#ee4f51"/>
<polygon points="970,385 1040,280 1080,300 1090,390 1010,420" fill="#f8a2a2"/>
<polygon points="640,490 720,470 940,550 970,720 880,740 750,690 680,700 650,600" fill="#f47c7c"/>
<polygon points="440,690 620,530 660,600 690,770 450,780" fill="#ee4f51"/>
<polygon points="230,590 370,520 440,690 450,780 350,780 320,660" fill="#f47c7c"/>
<polygon points="370,520 480,470 620,480 700,460 580,560 540,620 440,690 420,600" fill="#85b8fa"/>
<polygon points="460,520 500,440 560,410 620,380 700,340 740,400 700,460 600,480 500,520" fill="#60a0f7"/>
</g>
</g>
</svg>
<div id="logo"></div>
<div class="ln" style="left:1044px;top:80px;width:828px;height:1px;background:#0f3f4a"></div>
<div class="ln" style="left:1044px;top:307px;width:828px;height:1px;background:#2a2627"></div>
<div class="ln" style="left:1044px;top:338px;width:828px;height:1px;background:#2a2627"></div>
<div class="ln" style="left:1044px;top:387px;width:828px;height:1px;background:#2a2627"></div>
<div class="ln" style="left:1044px;top:430px;width:828px;height:1px;background:#2a2627"></div>
<div class="ln" style="left:1044px;top:471px;width:828px;height:1px;background:#2a2627"></div>
<div class="ln" style="left:1044px;top:512px;width:828px;height:1px;background:#2a2627"></div>
<div class="ln" style="left:1044px;top:555px;width:828px;height:1px;background:#2a2627"></div>
<div class="ln" style="left:1044px;top:564px;width:828px;height:1px;background:#343032"></div>
<div class="ln" style="left:1044px;top:632px;width:265px;height:1px;background:#2a2627"></div>
<div class="ln" style="left:1325.5px;top:632px;width:265.0px;height:1px;background:#2a2627"></div>
<div class="ln" style="left:1607px;top:632px;width:265px;height:1px;background:#2a2627"></div>
<div class="ln" style="left:1044px;top:689px;width:265px;height:1px;background:#2a2627"></div>
<div class="ln" style="left:1044px;top:740px;width:265px;height:1px;background:#2a2627"></div>
<div class="ln" style="left:1044px;top:771px;width:265px;height:1px;background:#2a2627"></div>
<div class="ln" style="left:1044px;top:804px;width:265px;height:1px;background:#2a2627"></div>
<div class="ln" style="left:1044px;top:835px;width:265px;height:1px;background:#2a2627"></div>
<div class="ln" style="left:1325.5px;top:670px;width:265.0px;height:1px;background:#2a2627"></div>
<div class="ln" style="left:1325.5px;top:702px;width:265.0px;height:1px;background:#2a2627"></div>
<div class="ln" style="left:1325.5px;top:734px;width:265.0px;height:1px;background:#2a2627"></div>
<div class="ln" style="left:1325.5px;top:766px;width:265.0px;height:1px;background:#2a2627"></div>
<div class="ln" style="left:1325.5px;top:797px;width:265.0px;height:1px;background:#2a2627"></div>
<div class="ln" style="left:1044px;top:875px;width:828px;height:1px;background:#2a2627"></div>
<div class="ln" style="left:1044.0px;top:894px;width:1px;height:49px;background:#2a2627"></div>
<div class="ln" style="left:1256.75px;top:894px;width:1px;height:49px;background:#2a2627"></div>
<div class="ln" style="left:1469.5px;top:894px;width:1px;height:49px;background:#2a2627"></div>
<div class="ln" style="left:1682.25px;top:894px;width:1px;height:49px;background:#2a2627"></div>
<div class="ln" style="left:1044px;top:995px;width:463px;height:1px;background:#0f4451"></div>
<div class="ln" style="left:1435px;top:361.9px;width:16.7px;height:3px;background:#f5f2ee"></div>
<div class="ln" style="left:1435px;top:408.9px;width:14px;height:2px;background:#f5f2ee"></div>
<div class="ln" style="left:1435px;top:450.0px;width:14px;height:2px;background:#f5f2ee"></div>
<div class="ln" style="left:1435px;top:491.9px;width:14px;height:2px;background:#f5f2ee"></div>
<div class="ln" style="left:1435px;top:533.9px;width:14px;height:2px;background:#f5f2ee"></div>
<div class="trk" style="left:1239px;top:661.0px"><div class="fill" style="width:57.26px;background:#8a97ac"></div></div>
<div class="trk" style="left:1239px;top:712.0px"><div class="fill" style="width:6.44px;background:#e0901c"></div></div>
<div class="trk" style="left:1239px;top:753.1px"><div class="fill" style="width:2.66px;background:#a78bfa"></div></div>
<div class="trk" style="left:1239px;top:784.8px"><div class="fill" style="width:1.54px;background:#34d399"></div></div>
<div class="trk" style="left:1239px;top:815.9px"><div class="fill" style="width:0.00px;background:#8a97ac"></div></div>
<div class="trk" style="left:1520px;top:650.8px"><div class="fill" style="width:22.12px;background:#8a97ac"></div></div>
<div class="trk" style="left:1520px;top:682.7px"><div class="fill" style="width:8.12px;background:#8a97ac"></div></div>
<div class="trk" style="left:1520px;top:714.6px"><div class="fill" style="width:6.72px;background:#8a97ac"></div></div>
<div class="trk" style="left:1520px;top:746.6px"><div class="fill" style="width:4.20px;background:#8a97ac"></div></div>
<div class="trk" style="left:1520px;top:778.5px"><div class="fill" style="width:4.13px;background:#8a97ac"></div></div>
<div class="t" id="brand" style="left:1080.50px;top:35.21px;font-size:30.91px;font-weight:700;color:#f5f2ee;letter-spacing:-0.296px;;transform:scaleX(0.92);transform-origin:0 0">Akashic Edge<span class="bp"></span></div>
<div class="t" id="site" style="left:1729.30px;top:42.70px;font-size:17.8px;font-weight:400;color:#a99b92;letter-spacing:0.236px;-webkit-text-stroke:0.6px">akashicedge.com<span class="bp"></span></div>
<div class="t" id="kicker" style="left:1043.50px;top:92.26px;font-size:18.21px;font-weight:400;color:#a99b92;letter-spacing:0.500px;-webkit-text-stroke:0.6px">Congressional district<span class="bp"></span></div>
<div class="t" id="title" style="left:1044.70px;top:121.25px;font-size:57.76px;font-weight:700;color:#f5f2ee;letter-spacing:-0.980px;;transform:scaleX(0.9);transform-origin:0 0">Pennsylvania's <span class="n1">1</span><span class="n1">1</span>th Congressional District<span class="bp"></span></div>
<div class="t" id="latest" style="left:1044.00px;top:193.11px;font-size:19.88px;font-weight:400;color:#a99b92;letter-spacing:0.433px;-webkit-text-stroke:0.7px">Latest presidential: 2024<span class="bp"></span></div>
<div class="t" id="big" style="left:1044.30px;top:226.01px;font-size:40.28px;font-weight:700;color:#f87171;letter-spacing:-0.634px;;transform:scaleX(0.92);transform-origin:0 0">R +2<span class="n1">1</span>.3<span class="bp"></span></div>
<div class="t" id="bigsub" style="left:1181.50px;top:252.10px;font-size:14.67px;font-weight:400;color:#a99b92;letter-spacing:-0.286px;-webkit-text-stroke:0.4px">— · 2024<span class="bp"></span></div>
<div class="t" id="pvh" style="left:1044.00px;top:279.41px;font-size:18.21px;font-weight:700;color:#f5f2ee;letter-spacing:0.524px;;transform:scaleX(0.92);transform-origin:0 0">Presidential Vote · 2008–2024<span class="bp"></span></div>
<div class="t" id="th1" style="left:1044.20px;top:315.90px;font-size:14.57px;font-weight:400;color:#a99b92;letter-spacing:-0.333px;-webkit-text-stroke:0.45px">Year<span class="bp"></span></div>
<div class="t" id="th2" style="left:1114.00px;top:315.90px;font-size:14.57px;font-weight:400;color:#a99b92;letter-spacing:-1.325px;-webkit-text-stroke:0.45px">Dem %<span class="bp"></span></div>
<div class="t" id="th3" style="left:1214.00px;top:315.90px;font-size:14.57px;font-weight:400;color:#a99b92;letter-spacing:-1.600px;-webkit-text-stroke:0.45px">Rep %<span class="bp"></span></div>
<div class="t" id="th4" style="left:1313.80px;top:315.90px;font-size:14.57px;font-weight:400;color:#a99b92;letter-spacing:0.260px;-webkit-text-stroke:0.45px">Margin<span class="bp"></span></div>
<div class="t" id="th5" style="left:1434.20px;top:315.90px;font-size:14.57px;font-weight:400;color:#a99b92;letter-spacing:-0.040px;-webkit-text-stroke:0.45px">Winner<span class="bp"></span></div>
<div class="t" id="ry0" style="left:1043.90px;top:349.90px;font-size:22.69px;font-weight:700;color:#f5f2ee;letter-spacing:0.333px;">2024<span class="bp"></span></div>
<div class="t" id="rd0" style="left:1114.70px;top:349.90px;font-size:22.69px;font-weight:700;color:#60a5fa;letter-spacing:-0.978px;;transform:scaleX(0.92);transform-origin:0 0">38.7 %<span class="bp"></span></div>
<div class="t" id="rr0" style="left:1214.20px;top:349.90px;font-size:22.69px;font-weight:700;color:#f87171;letter-spacing:0.261px;;transform:scaleX(0.92);transform-origin:0 0">60.0 %<span class="bp"></span></div>
<div class="t" id="rm0" style="left:1313.30px;top:349.90px;font-size:22.69px;font-weight:700;color:#f87171;letter-spacing:-0.344px;;transform:scaleX(0.92);transform-origin:0 0">R +2<span class="n1">1</span>.3<span class="bp"></span></div>
<div class="t" id="ry1" style="left:1043.90px;top:399.41px;font-size:18.42px;font-weight:700;color:#f5f2ee;letter-spacing:0.933px;">2020<span class="bp"></span></div>
<div class="t" id="rd1" style="left:1114.70px;top:399.41px;font-size:18.42px;font-weight:700;color:#60a5fa;letter-spacing:-0.565px;;transform:scaleX(0.92);transform-origin:0 0">38.6 %<span class="bp"></span></div>
<div class="t" id="rr1" style="left:1214.70px;top:399.41px;font-size:18.42px;font-weight:700;color:#f87171;letter-spacing:-0.522px;;transform:scaleX(0.92);transform-origin:0 0">59.9 %<span class="bp"></span></div>
<div class="t" id="rm1" style="left:1313.80px;top:399.41px;font-size:18.42px;font-weight:700;color:#f87171;letter-spacing:-0.272px;;transform:scaleX(0.92);transform-origin:0 0">R +2<span class="n1">1</span>.3<span class="bp"></span></div>
<div class="t" id="ry2" style="left:1043.90px;top:440.61px;font-size:18.42px;font-weight:700;color:#f5f2ee;letter-spacing:-0.200px;">20<span class="n1">1</span>6<span class="bp"></span></div>
<div class="t" id="rd2" style="left:1114.70px;top:440.61px;font-size:18.42px;font-weight:700;color:#60a5fa;letter-spacing:-0.348px;;transform:scaleX(0.92);transform-origin:0 0">34.9 %<span class="bp"></span></div>
<div class="t" id="rr2" style="left:1214.70px;top:440.61px;font-size:18.42px;font-weight:700;color:#f87171;letter-spacing:-0.174px;;transform:scaleX(0.92);transform-origin:0 0">60.3 %<span class="bp"></span></div>
<div class="t" id="rm2" style="left:1313.80px;top:440.61px;font-size:18.42px;font-weight:700;color:#f87171;letter-spacing:-0.109px;;transform:scaleX(0.92);transform-origin:0 0">R +25.5<span class="bp"></span></div>
<div class="t" id="ry3" style="left:1043.90px;top:482.81px;font-size:18.42px;font-weight:700;color:#f5f2ee;letter-spacing:-0.200px;">20<span class="n1">1</span>2<span class="bp"></span></div>
<div class="t" id="rd3" style="left:1114.70px;top:482.81px;font-size:18.42px;font-weight:700;color:#60a5fa;letter-spacing:-0.783px;;transform:scaleX(0.92);transform-origin:0 0">38.7 %<span class="bp"></span></div>
<div class="t" id="rr3" style="left:1214.70px;top:482.81px;font-size:18.42px;font-weight:700;color:#f87171;letter-spacing:-0.913px;;transform:scaleX(0.92);transform-origin:0 0">6<span class="n1">1</span>.3 %<span class="bp"></span></div>
<div class="t" id="rm3" style="left:1313.80px;top:482.81px;font-size:18.42px;font-weight:700;color:#f87171;letter-spacing:-0.199px;;transform:scaleX(0.92);transform-origin:0 0">R +22.7<span class="bp"></span></div>
<div class="t" id="ry4" style="left:1043.90px;top:524.31px;font-size:18.42px;font-weight:700;color:#f5f2ee;letter-spacing:0.933px;">2008<span class="bp"></span></div>
<div class="t" id="rd4" style="left:1115.20px;top:524.31px;font-size:18.42px;font-weight:700;color:#60a5fa;letter-spacing:-0.848px;;transform:scaleX(0.92);transform-origin:0 0">4<span class="n1">1</span>.9 %<span class="bp"></span></div>
<div class="t" id="rr4" style="left:1214.70px;top:524.31px;font-size:18.42px;font-weight:700;color:#f87171;letter-spacing:-0.609px;;transform:scaleX(0.92);transform-origin:0 0">56.8 %<span class="bp"></span></div>
<div class="t" id="rm4" style="left:1313.80px;top:524.31px;font-size:18.42px;font-weight:700;color:#f87171;letter-spacing:-0.272px;;transform:scaleX(0.92);transform-origin:0 0">R +<span class="n1">1</span>4.9<span class="bp"></span></div>
<div class="t" id="swing" style="left:1043.60px;top:575.61px;font-size:15.82px;font-weight:400;color:#a99b92;letter-spacing:0.270px;-webkit-text-stroke:0.45px">Net swing 2008 <svg width="10" height="8" viewBox="0 0 10 8" style="vertical-align:1.2px;overflow:visible"><path d="M0.3 4H8.6M5.4 0.9L8.8 4L5.4 7.1" stroke="#a99b92" stroke-width="1.7" fill="none" stroke-linecap="round" stroke-linejoin="round"/></svg> 2024<span class="bp"></span></div>
<div class="t" id="swingv" style="left:1799.40px;top:575.71px;font-size:15.61px;font-weight:700;color:#f87171;letter-spacing:0.471px;;transform:scaleX(0.92);transform-origin:0 0">R +6.4 pts<span class="bp"></span></div>
<div class="t" id="h_race" style="left:1043.60px;top:605.01px;font-size:18.63px;font-weight:700;color:#f5f2ee;letter-spacing:-0.239px;;transform:scaleX(0.92);transform-origin:0 0">Race &amp; Ethnicity<span class="bp"></span></div>
<div class="t" id="h_anc" style="left:1326.60px;top:605.20px;font-size:18.63px;font-weight:700;color:#f5f2ee;letter-spacing:-0.059px;;transform:scaleX(0.92);transform-origin:0 0">Top Ancestries<span class="bp"></span></div>
<div class="t" id="h_rel" style="left:1606.60px;top:604.81px;font-size:18.63px;font-weight:700;color:#f5f2ee;letter-spacing:-0.332px;;transform:scaleX(0.92);transform-origin:0 0">Religious Composition<span class="bp"></span></div>
<div class="t" id="nodata" style="left:1606.60px;top:641.51px;font-size:14.57px;font-weight:400;color:#a99b92;letter-spacing:0.543px;-webkit-text-stroke:0.45px">No data.<span class="bp"></span></div>
<div class="t" id="rl0_0" style="left:1044.60px;top:646.91px;font-size:15.19px;font-weight:700;color:#f5f2ee;letter-spacing:0.391px;;transform:scaleX(0.92);transform-origin:0 0">White, non-<span class="bp"></span></div>
<div class="t" id="rl0_1" style="left:1043.60px;top:665.81px;font-size:15.19px;font-weight:700;color:#f5f2ee;letter-spacing:0.047px;;transform:scaleX(0.92);transform-origin:0 0">Hispanic<span class="bp"></span></div>
<div class="t" id="rp0" style="left:1164.50px;top:655.81px;font-size:15.19px;font-weight:400;color:#a99b92;letter-spacing:-1.240px;-webkit-text-stroke:0.45px">8<span class="n1">1</span>.8 %<span class="bp"></span></div>
<div class="t" id="rl1_0" style="left:1043.60px;top:697.41px;font-size:15.19px;font-weight:700;color:#f5f2ee;letter-spacing:0.022px;;transform:scaleX(0.92);transform-origin:0 0">Hispanic or<span class="bp"></span></div>
<div class="t" id="rl1_1" style="left:1043.60px;top:716.31px;font-size:15.19px;font-weight:700;color:#f5f2ee;letter-spacing:0.413px;;transform:scaleX(0.92);transform-origin:0 0">Latino<span class="bp"></span></div>
<div class="t" id="rp1" style="left:1164.50px;top:706.81px;font-size:15.19px;font-weight:400;color:#a99b92;letter-spacing:-1.000px;-webkit-text-stroke:0.45px">9.2 %<span class="bp"></span></div>
<div class="t" id="rl2_0" style="left:1043.60px;top:749.00px;font-size:15.19px;font-weight:700;color:#f5f2ee;letter-spacing:-0.109px;;transform:scaleX(0.92);transform-origin:0 0">Black<span class="bp"></span></div>
<div class="t" id="rp2" style="left:1164.50px;top:749.00px;font-size:15.19px;font-weight:400;color:#a99b92;letter-spacing:-1.000px;-webkit-text-stroke:0.45px">3.8 %<span class="bp"></span></div>
<div class="t" id="rl3_0" style="left:1044.10px;top:780.81px;font-size:15.19px;font-weight:700;color:#f5f2ee;letter-spacing:0.027px;;transform:scaleX(0.92);transform-origin:0 0">Asian<span class="bp"></span></div>
<div class="t" id="rp3" style="left:1164.50px;top:780.81px;font-size:15.19px;font-weight:400;color:#a99b92;letter-spacing:-1.000px;-webkit-text-stroke:0.45px">2.2 %<span class="bp"></span></div>
<div class="t" id="rl4_0" style="left:1044.10px;top:812.11px;font-size:15.19px;font-weight:700;color:#f5f2ee;letter-spacing:0.761px;;transform:scaleX(0.92);transform-origin:0 0">AIAN<span class="bp"></span></div>
<div class="t" id="rp4" style="left:1164.50px;top:812.11px;font-size:15.19px;font-weight:400;color:#a99b92;letter-spacing:-0.750px;-webkit-text-stroke:0.45px">0.2 %<span class="bp"></span></div>
<div class="t" id="al0" style="left:1325.30px;top:646.91px;font-size:15.19px;font-weight:700;color:#f5f2ee;letter-spacing:0.804px;;transform:scaleX(0.92);transform-origin:0 0">German<span class="bp"></span></div>
<div class="t" id="ap0" style="left:1445.50px;top:646.91px;font-size:15.19px;font-weight:400;color:#a99b92;letter-spacing:-1.240px;-webkit-text-stroke:0.45px">3<span class="n1">1</span>.6 %<span class="bp"></span></div>
<div class="t" id="al1" style="left:1324.80px;top:678.70px;font-size:15.19px;font-weight:700;color:#f5f2ee;letter-spacing:0.109px;;transform:scaleX(0.92);transform-origin:0 0">Irish<span class="bp"></span></div>
<div class="t" id="ap1" style="left:1446.00px;top:678.70px;font-size:15.19px;font-weight:400;color:#a99b92;letter-spacing:-1.720px;-webkit-text-stroke:0.45px"><span class="n1">1</span><span class="n1">1</span>.6 %<span class="bp"></span></div>
<div class="t" id="al2" style="left:1324.80px;top:710.61px;font-size:15.19px;font-weight:700;color:#f5f2ee;letter-spacing:-0.199px;;transform:scaleX(0.92);transform-origin:0 0">English<span class="bp"></span></div>
<div class="t" id="ap2" style="left:1445.50px;top:710.61px;font-size:15.19px;font-weight:400;color:#a99b92;letter-spacing:-1.175px;-webkit-text-stroke:0.45px">9.6 %<span class="bp"></span></div>
<div class="t" id="al3" style="left:1325.30px;top:742.61px;font-size:15.19px;font-weight:700;color:#f5f2ee;letter-spacing:0.450px;;transform:scaleX(0.92);transform-origin:0 0">American<span class="bp"></span></div>
<div class="t" id="ap3" style="left:1445.50px;top:742.61px;font-size:15.19px;font-weight:400;color:#a99b92;letter-spacing:-0.850px;-webkit-text-stroke:0.45px">6.0 %<span class="bp"></span></div>
<div class="t" id="al4" style="left:1324.80px;top:774.50px;font-size:15.19px;font-weight:700;color:#f5f2ee;letter-spacing:0.688px;;transform:scaleX(0.92);transform-origin:0 0">Italian<span class="bp"></span></div>
<div class="t" id="ap4" style="left:1445.50px;top:774.50px;font-size:15.19px;font-weight:400;color:#a99b92;letter-spacing:-1.175px;-webkit-text-stroke:0.45px">5.9 %<span class="bp"></span></div>
<div class="t" id="h_eco" style="left:1044.00px;top:847.51px;font-size:18.63px;font-weight:700;color:#f5f2ee;letter-spacing:-0.372px;;transform:scaleX(0.92);transform-origin:0 0">Economics &amp; Language<span class="bp"></span></div>
<div class="t" id="el0" style="left:1058.40px;top:896.01px;font-size:14.57px;font-weight:400;color:#a99b92;letter-spacing:-0.320px;-webkit-text-stroke:0.45px">Median HH income<span class="bp"></span></div>
<div class="t" id="ev0" style="left:1060.00px;top:917.01px;font-size:22.69px;font-weight:700;color:#f5f2ee;letter-spacing:-0.362px;;transform:scaleX(0.92);transform-origin:0 0">$87,22<span class="n1">1</span><span class="bp"></span></div>
<div class="t" id="el1" style="left:1271.40px;top:896.01px;font-size:14.57px;font-weight:400;color:#a99b92;letter-spacing:0.191px;-webkit-text-stroke:0.45px">Poverty rate<span class="bp"></span></div>
<div class="t" id="ev1" style="left:1272.00px;top:917.01px;font-size:22.69px;font-weight:700;color:#f5f2ee;letter-spacing:-1.223px;;transform:scaleX(0.92);transform-origin:0 0">7.9 %<span class="bp"></span></div>
<div class="t" id="el2" style="left:1484.40px;top:896.01px;font-size:14.57px;font-weight:400;color:#a99b92;letter-spacing:-0.236px;-webkit-text-stroke:0.45px">English at home<span class="bp"></span></div>
<div class="t" id="ev2" style="left:1484.50px;top:917.01px;font-size:22.69px;font-weight:700;color:#f5f2ee;letter-spacing:-0.565px;;transform:scaleX(0.92);transform-origin:0 0">86.6 %<span class="bp"></span></div>
<div class="t" id="el3" style="left:1697.90px;top:896.01px;font-size:14.57px;font-weight:400;color:#a99b92;letter-spacing:0.031px;-webkit-text-stroke:0.45px">Other language<span class="bp"></span></div>
<div class="t" id="ev3" style="left:1697.50px;top:917.01px;font-size:22.69px;font-weight:700;color:#f5f2ee;letter-spacing:-0.870px;;transform:scaleX(0.92);transform-origin:0 0"><span class="n1">1</span>3.4 %<span class="bp"></span></div>
<div class="t" id="src" style="left:1043.90px;top:1008.10px;font-size:12.8px;font-weight:400;color:#a99b92;letter-spacing:0.029px;-webkit-text-stroke:0.35px">Sources: Akashic Edge elections database · PL 94-<span class="n1">1</span>7<span class="n1">1</span> (2020) · ACS 5-yr B04006<span class="bp"></span></div>
<div class="t" id="url" style="left:1043.90px;top:1027.50px;font-size:13.53px;font-weight:400;color:#c9bfb7;letter-spacing:0.423px;-webkit-text-stroke:0.4px">akashicedge.com/districts/pa-<span class="n1">1</span><span class="n1">1</span><span class="bp"></span></div>
<div class="t" id="cap" style="left:404.50px;top:647.61px;font-size:18.0px;font-weight:400;color:#a99b92;letter-spacing:-0.690px;-webkit-text-stroke:0.6px">2024 · Dem 38.7 % · Rep 60.0 %<span class="bp"></span></div>
</body></html>
